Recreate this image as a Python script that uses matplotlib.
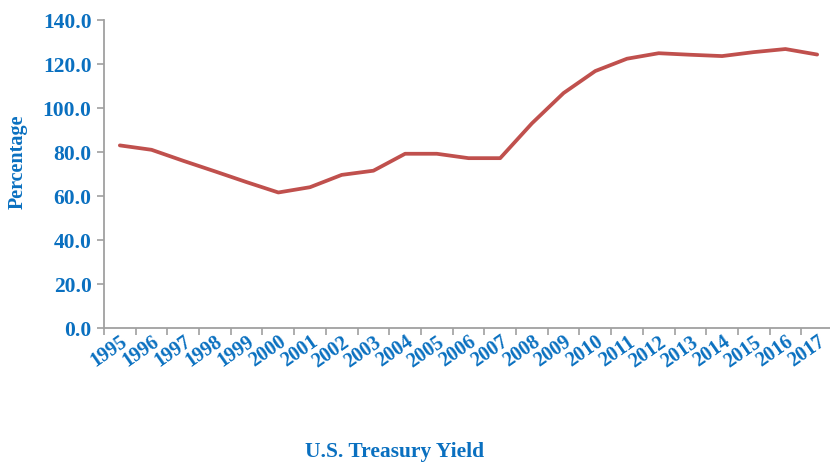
import matplotlib
matplotlib.use("agg")
import matplotlib.pyplot as plt
import matplotlib.ticker as ticker
import numpy as np

YEARS = [str(y) for y in range(1995, 2018)]
VALUES = [83.0, 81.0, 76.0, 71.2, 66.3, 61.6, 64.0, 69.6, 71.5, 79.2, 79.2,
          77.2, 77.2, 93.0, 106.8, 116.8, 122.4, 124.9, 124.2, 123.6, 125.4,
          126.8, 124.3]

BLUE = "#0a70c0"
RED = "#c0504d"
GREY = "#a0a0a0"
FONT = "Liberation Serif"

fig = plt.figure(figsize=(8.3, 4.63), dpi=100)
ax = fig.add_axes([104 / 830, 1 - 328 / 463, 729 / 830, 308 / 463])

x = np.arange(len(YEARS))
ax.plot(x, VALUES, color=RED, linewidth=2.7, solid_capstyle="round",
        solid_joinstyle="round")

ax.set_xlim(-0.5, len(YEARS) - 0.5)
ax.set_ylim(0, 140)

# category axis: tick marks between categories, labels at centres
ax.xaxis.set_major_locator(ticker.FixedLocator(np.arange(-0.5, len(YEARS), 1.0)))
ax.xaxis.set_major_formatter(ticker.NullFormatter())
ax.xaxis.set_minor_locator(ticker.FixedLocator(x))
ax.xaxis.set_minor_formatter(ticker.FixedFormatter(YEARS))
ax.tick_params(axis="x", which="major", direction="out", length=5,
               width=1.2, color=GREY)
ax.tick_params(axis="x", which="minor", length=0, pad=3)
for lab in ax.get_xticklabels(minor=True):
    lab.set_rotation(35)
    lab.set_ha("right")
    lab.set_va("top")
    lab.set_rotation_mode("anchor")
    lab.set_fontsize(14.5)
    lab.set_fontweight("bold")
    lab.set_family(FONT)
    lab.set_color(BLUE)

ax.yaxis.set_major_locator(ticker.MultipleLocator(20))
ax.yaxis.set_major_formatter(ticker.FormatStrFormatter("%.1f"))
ax.tick_params(axis="y", direction="out", length=5, width=1.2, color=GREY,
               pad=4)
for lab in ax.get_yticklabels():
    lab.set_fontsize(15.5)
    lab.set_fontweight("bold")
    lab.set_family(FONT)
    lab.set_color(BLUE)

for side in ("top", "right"):
    ax.spines[side].set_visible(False)
for side in ("left", "bottom"):
    ax.spines[side].set_color(GREY)
    ax.spines[side].set_linewidth(1.3)

ax.set_ylabel("Percentage", fontsize=14.5, fontweight="bold", family=FONT,
              color=BLUE)
ax.yaxis.set_label_coords(-0.105, 0.54)

# title sits at the very bottom edge, as in the source image
fig.text(395 / 830, 1 - 462 / 463, "U.S. Treasury Yield", ha="center",
         va="bottom", fontsize=15.5, fontweight="bold", family=FONT, color=BLUE)

fig.savefig("out.png", dpi=100)
